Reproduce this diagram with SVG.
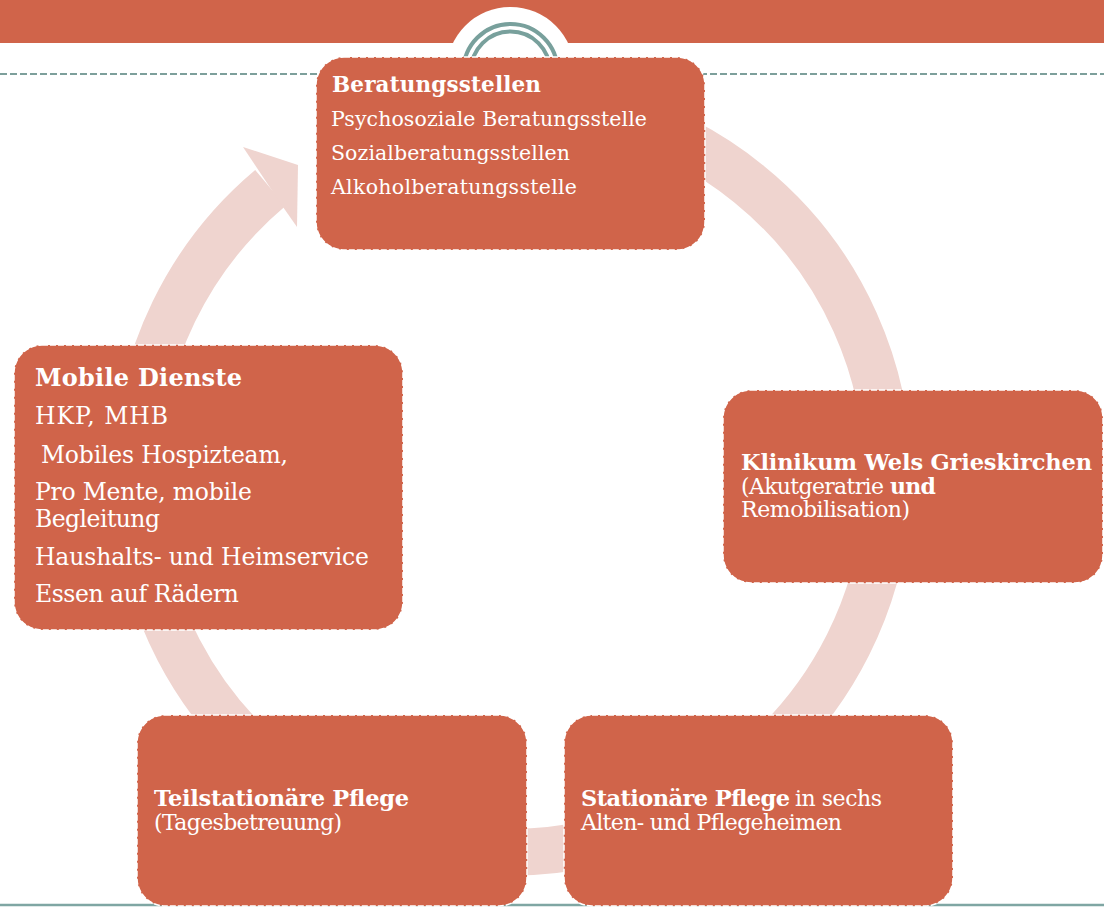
<svg xmlns="http://www.w3.org/2000/svg" width="1104" height="907" viewBox="0 0 1104 907">
<style>
.box{fill:#d0644a;stroke:#fff;stroke-width:1.5;stroke-dasharray:6 2}
.t{font-family:"DejaVu Serif","Liberation Serif",serif;fill:#fff}
.b{font-weight:bold}
.teal{fill:none;stroke:#78a09c}
</style>
<g id="header">
<rect x="0" y="0" width="1104" height="43" fill="#d0644a"/>
<circle cx="510.5" cy="71" r="64" fill="#fff"/>
<circle class="teal" cx="510.5" cy="71" r="47" stroke-width="4"/>
<circle class="teal" cx="510.5" cy="71" r="39.5" stroke-width="4"/>
<line x1="0" y1="74" x2="1104" y2="74" stroke="#7d9f9b" stroke-width="2.2" stroke-dasharray="7 3"/>
<line x1="0" y1="905" x2="1104" y2="905" stroke="#7fa6a3" stroke-width="2.5"/>
</g>
<g id="connectors">
<path d="M 609.3 112.8 A 376 376 0 1 1 270.3 188" fill="none" stroke="#efd4cf" stroke-width="47"/>
<polygon points="243,147 298,165 297,227 283,207 257,168" fill="#efd4cf"/>
</g>
<g id="node-beratung">
<rect class="box" x="316" y="57" width="389" height="193" rx="28"/>
<text class="t b" x="332" y="92" font-size="21.5" textLength="209">Beratungsstellen</text>
<text class="t" x="331" y="126" font-size="20.5" textLength="316">Psychosoziale Beratungsstelle</text>
<text class="t" x="331" y="160" font-size="20.5" textLength="239">Sozialberatungsstellen</text>
<text class="t" x="331" y="194" font-size="20.5" textLength="246">Alkoholberatungsstelle</text>
</g>
<g id="node-mobile">
<rect class="box" x="14" y="345" width="389" height="285" rx="28"/>
<text class="t b" x="35" y="386" font-size="24" textLength="207">Mobile Dienste</text>
<text class="t" x="35" y="424" font-size="23.5" textLength="133">HKP, MHB</text>
<text class="t" x="41" y="463" font-size="23.5" textLength="247">Mobiles Hospizteam,</text>
<text class="t" x="35" y="500" font-size="23.5" textLength="217">Pro Mente, mobile</text>
<text class="t" x="35" y="527" font-size="23.5" textLength="125">Begleitung</text>
<text class="t" x="35" y="565" font-size="23.5" textLength="334">Haushalts- und Heimservice</text>
<text class="t" x="35" y="602" font-size="23.5" textLength="204">Essen auf Rädern</text>
</g>
<g id="node-klinikum">
<rect class="box" x="723" y="390" width="380" height="193" rx="28"/>
<text class="t b" x="741" y="470" font-size="22.5" textLength="351">Klinikum Wels Grieskirchen</text>
<text class="t" x="741" y="494" font-size="22" textLength="143">(Akutgeratrie</text>
<text class="t b" x="890" y="494" font-size="22" textLength="46">und</text>
<text class="t" x="741" y="517" font-size="22" textLength="169">Remobilisation)</text>
</g>
<g id="node-teilstationaer">
<rect class="box" x="137" y="715" width="390" height="191" rx="28"/>
<text class="t b" x="154" y="806" font-size="22.5" textLength="255">Teilstationäre Pflege</text>
<text class="t" x="154" y="830" font-size="22" textLength="188">(Tagesbetreuung)</text>
</g>
<g id="node-stationaer">
<rect class="box" x="564" y="715" width="389" height="191" rx="28"/>
<text class="t b" x="581" y="806" font-size="22.5" textLength="209">Stationäre Pflege</text>
<text class="t" x="795" y="806" font-size="22" textLength="87">in sechs</text>
<text class="t" x="581" y="830" font-size="22" textLength="261">Alten- und Pflegeheimen</text>
</g>
</svg>
